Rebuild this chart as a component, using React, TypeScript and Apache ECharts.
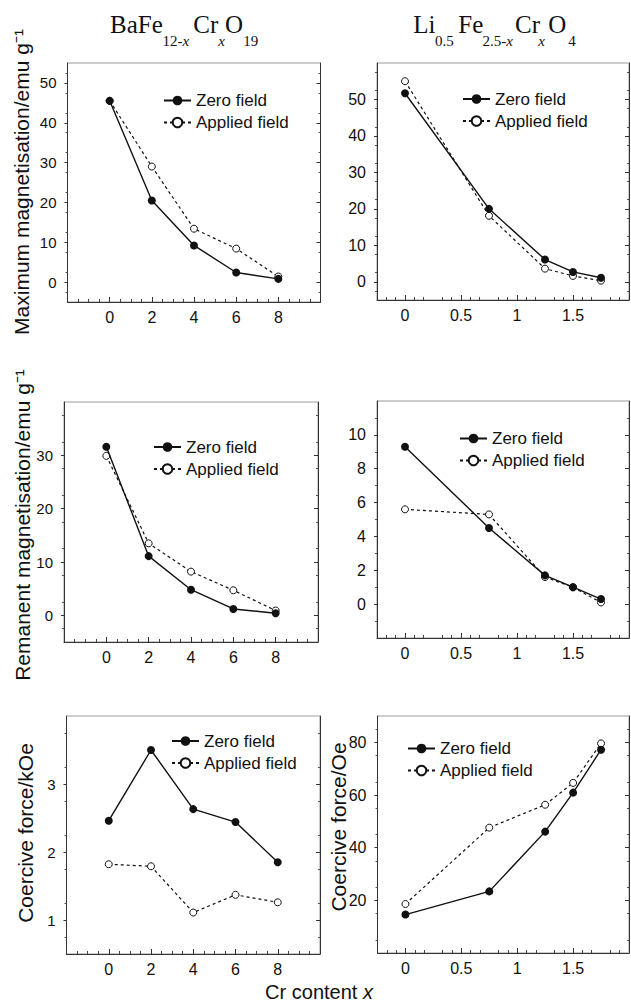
import React, { useEffect, useRef } from 'react';
import * as echarts from 'echarts';

// ---------- data ----------
const SERIES_NAMES = ['Zero field', 'Applied field'];

const BA_X = [0, 2, 4, 6, 8];
const LI_X = [0, 0.75, 1.25, 1.5, 1.75];

const BA_MAXMAG_ZERO = [45.5, 20.5, 9.2, 2.4, 0.8];
const BA_MAXMAG_APPLIED = [45.5, 29.0, 13.4, 8.4, 1.4];
const LI_MAXMAG_ZERO = [51.7, 20.0, 6.1, 2.7, 1.1];
const LI_MAXMAG_APPLIED = [55.0, 18.1, 3.6, 1.6, 0.3];

const BA_REMMAG_ZERO = [31.6, 11.1, 4.8, 1.2, 0.4];
const BA_REMMAG_APPLIED = [29.9, 13.5, 8.2, 4.7, 0.9];
const LI_REMMAG_ZERO = [9.3, 4.5, 1.7, 1.0, 0.3];
const LI_REMMAG_APPLIED = [5.6, 5.3, 1.6, 1.0, 0.1];

const BA_COERC_ZERO = [2.46, 3.5, 2.63, 2.44, 1.85];
const BA_COERC_APPLIED = [1.82, 1.79, 1.11, 1.37, 1.26];
const LI_COERC_ZERO = [14.6, 23.4, 46.1, 60.9, 77.2];
const LI_COERC_APPLIED = [18.6, 47.6, 56.3, 64.6, 79.6];

// tick labels
const BA_X_TICKS = [0, 2, 4, 6, 8];
const LI_X_TICKS = [0, 0.5, 1, 1.5];
const BA_MAXMAG_TICKS = [0, 10, 20, 30, 40, 50];
const LI_MAXMAG_TICKS = [0, 10, 20, 30, 40, 50];
const BA_REMMAG_TICKS = [0, 10, 20, 30];
const LI_REMMAG_TICKS = [0, 2, 4, 6, 8, 10];
const BA_COERC_TICKS = [1, 2, 3];
const LI_COERC_TICKS = [20, 40, 60, 80];

// ---------- style / layout ----------
const SANS = '"Liberation Sans", Arial, Helvetica, sans-serif';
const SERIF = '"Liberation Serif", "Times New Roman", serif';
const INK = '#111';

type Range = { min: number; max: number; interval: number; minorSplit: number };

const BA_X_RANGE: Range = { min: -2, max: 10, interval: 2, minorSplit: 4 };
const LI_X_RANGE: Range = { min: -0.25, max: 2, interval: 0.25, minorSplit: 3 };

const PANELS = [
  {
    grid: { left: 67.5, top: 63, width: 253, height: 239 },
    xs: BA_X, xr: BA_X_RANGE, xt: BA_X_TICKS,
    yr: { min: -5, max: 55, interval: 5, minorSplit: 2 }, yt: BA_MAXMAG_TICKS,
    zero: BA_MAXMAG_ZERO, applied: BA_MAXMAG_APPLIED,
    legend: { left: 163, top: 92 }, yFont: 15,
  },
  {
    grid: { left: 377, top: 63, width: 252, height: 237 },
    xs: LI_X, xr: LI_X_RANGE, xt: LI_X_TICKS,
    yr: { min: -5, max: 60, interval: 5, minorSplit: 2 }, yt: LI_MAXMAG_TICKS,
    zero: LI_MAXMAG_ZERO, applied: LI_MAXMAG_APPLIED,
    legend: { left: 462, top: 90.5 }, yFont: 16,
  },
  {
    grid: { left: 64, top: 402, width: 254, height: 240 },
    xs: BA_X, xr: BA_X_RANGE, xt: BA_X_TICKS,
    yr: { min: -5, max: 40, interval: 5, minorSplit: 2 }, yt: BA_REMMAG_TICKS,
    zero: BA_REMMAG_ZERO, applied: BA_REMMAG_APPLIED,
    legend: { left: 153, top: 438.5 }, yFont: 15,
  },
  {
    grid: { left: 377, top: 401, width: 252, height: 237 },
    xs: LI_X, xr: LI_X_RANGE, xt: LI_X_TICKS,
    yr: { min: -2, max: 12, interval: 2, minorSplit: 2 }, yt: LI_REMMAG_TICKS,
    zero: LI_REMMAG_ZERO, applied: LI_REMMAG_APPLIED,
    legend: { left: 459, top: 430 }, yFont: 16,
  },
  {
    grid: { left: 66.5, top: 716, width: 253.5, height: 238 },
    xs: BA_X, xr: BA_X_RANGE, xt: BA_X_TICKS,
    yr: { min: 0.5, max: 4, interval: 0.5, minorSplit: 2 }, yt: BA_COERC_TICKS,
    zero: BA_COERC_ZERO, applied: BA_COERC_APPLIED,
    legend: { left: 171, top: 732.5 }, yFont: 15,
  },
  {
    grid: { left: 377.5, top: 716, width: 251.5, height: 237 },
    xs: LI_X, xr: LI_X_RANGE, xt: LI_X_TICKS,
    yr: { min: 0, max: 90, interval: 10, minorSplit: 2 }, yt: LI_COERC_TICKS,
    zero: LI_COERC_ZERO, applied: LI_COERC_APPLIED,
    legend: { left: 407, top: 740 }, yFont: 16,
  },
];

const near = (list: number[], v: number) => list.some((t) => Math.abs(t - v) < 1e-6);

function buildOption() {
  const grid: any[] = [];
  const xAxis: any[] = [];
  const yAxis: any[] = [];
  const series: any[] = [];
  const legend: any[] = [];

  PANELS.forEach((p, i) => {
    grid.push({
      ...p.grid,
      containLabel: false,
      show: true,
      borderColor: '#9a9a9a',
      borderWidth: 1,
      backgroundColor: 'transparent',
    });
    xAxis.push({
      type: 'value',
      gridIndex: i,
      min: p.xr.min,
      max: p.xr.max,
      interval: p.xr.interval,
      axisLine: { show: true, onZero: false, lineStyle: { color: '#333', width: 1 } },
      axisTick: { show: true, inside: true, length: 5, customValues: p.xt, lineStyle: { color: '#333' } },
      minorTick: { show: true, splitNumber: p.xr.minorSplit, length: 3, lineStyle: { color: '#444' } },
      splitLine: { show: false },
      axisLabel: {
        customValues: p.xt,
        formatter: (v: number) => (near(p.xt, v) ? String(v) : ''),
        fontSize: 16,
        fontFamily: SANS,
        color: INK,
        margin: 7,
      },
    });
    const yCommon = {
      type: 'value',
      gridIndex: i,
      min: p.yr.min,
      max: p.yr.max,
      interval: p.yr.interval,
      splitLine: { show: false },
    };
    yAxis.push({
      ...yCommon,
      position: 'left',
      axisLine: { show: true, onZero: false, lineStyle: { color: '#333', width: 1 } },
      axisTick: { show: true, inside: false, length: 3, customValues: p.yt, lineStyle: { color: '#333' } },
      minorTick: { show: true, splitNumber: p.yr.minorSplit, length: 2, lineStyle: { color: '#555' } },
      axisLabel: {
        customValues: p.yt,
        formatter: (v: number) => (near(p.yt, v) ? String(v) : ''),
        fontSize: p.yFont,
        fontFamily: SANS,
        color: INK,
        margin: 11,
      },
    });
    yAxis.push({
      ...yCommon,
      position: 'right',
      axisLine: { show: true, onZero: false, lineStyle: { color: '#333', width: 1 } },
      axisTick: { show: true, inside: true, length: 4, customValues: p.yt, lineStyle: { color: '#333' } },
      minorTick: { show: true, splitNumber: p.yr.minorSplit, length: 2, lineStyle: { color: '#555' } },
      axisLabel: { show: false },
    });

    series.push({
      name: SERIES_NAMES[1],
      type: 'line',
      xAxisIndex: i,
      yAxisIndex: 2 * i,
      data: p.xs.map((x, k) => [x, p.applied[k]]),
      symbol: 'circle',
      symbolSize: 7,
      showAllSymbol: true,
      itemStyle: { color: '#fff', borderColor: INK, borderWidth: 1 },
      lineStyle: { color: INK, width: 1.2, type: [3, 3] },
      z: 2,
    });
    series.push({
      name: SERIES_NAMES[0],
      type: 'line',
      xAxisIndex: i,
      yAxisIndex: 2 * i,
      data: p.xs.map((x, k) => [x, p.zero[k]]),
      symbol: 'circle',
      symbolSize: 8,
      showAllSymbol: true,
      itemStyle: { color: INK, borderColor: INK, borderWidth: 0 },
      lineStyle: { color: INK, width: 1.4, type: 'solid' },
      z: 3,
    });

    legend.push({
      data: SERIES_NAMES,
      orient: 'vertical',
      left: p.legend.left,
      top: p.legend.top,
      padding: 0,
      itemWidth: 27,
      itemHeight: 12,
      itemGap: 5,
      selectedMode: false,
      textStyle: { fontSize: 17, fontFamily: SANS, color: INK, lineHeight: 17 },
    });
  });

  const serifMain = (text: string, x: number) => ({
    type: 'text',
    x,
    y: 24,
    style: {
      text,
      fontSize: 25,
      fontFamily: SERIF,
      fill: INK,
      align: 'left',
      verticalAlign: 'middle',
      textAlign: 'left',
      textVerticalAlign: 'middle',
    },
  });
  const serifSub = (text: string, x: number) => ({
    type: 'text',
    x,
    y: 41,
    style: {
      text,
      fontSize: 15,
      fontFamily: SERIF,
      fill: INK,
      align: 'left',
      verticalAlign: 'middle',
      textAlign: 'left',
      textVerticalAlign: 'middle',
      rich: {
        n: { fontSize: 15, fontFamily: SERIF, fill: INK, color: INK },
        i: { fontSize: 15, fontFamily: SERIF, fontStyle: 'italic', fill: INK, color: INK },
      },
    },
  });
  const yName = (text: string, x: number, y: number) => ({
    type: 'text',
    x,
    y,
    rotation: Math.PI / 2,
    style: {
      text,
      fontSize: 21,
      fontFamily: SANS,
      fill: INK,
      align: 'center',
      verticalAlign: 'middle',
      textAlign: 'center',
      textVerticalAlign: 'middle',
    },
  });

  const graphic: any[] = [
    serifMain('BaFe', 110),
    serifSub('{n|12-}{i|x}', 162.5),
    serifMain('Cr', 193.3),
    serifSub('{i|x}', 218.3),
    serifMain('O', 225),
    serifSub('{n|19}', 243.3),

    serifMain('Li', 413.3),
    serifSub('{n|0.5}', 435),
    serifMain('Fe', 458.3),
    serifSub('{n|2.5-}{i|x}', 482.5),
    serifMain('Cr', 515),
    serifSub('{i|x}', 538.3),
    serifMain('O', 548.3),
    serifSub('{n|4}', 568.3),

    yName('Maximum magnetisation/emu g\u207B\u00B9', 21, 182),
    yName('Remanent magnetisation/emu g\u207B\u00B9', 22, 525),
    yName('Coercive force/kOe', 25, 833),
    yName('Coercive force/Oe', 338, 827),

    {
      type: 'text',
      x: 319,
      y: 992,
      style: {
        text: '{n|Cr content }{i|x}',
        fontSize: 20,
        fontFamily: SANS,
        fill: INK,
        align: 'center',
        verticalAlign: 'middle',
        textAlign: 'center',
        textVerticalAlign: 'middle',
        rich: {
          n: { fontSize: 20, fontFamily: SANS, fill: INK, color: INK, lineHeight: 20 },
          i: { fontSize: 20, fontFamily: SANS, fontStyle: 'italic', fill: INK, color: INK, lineHeight: 20 },
        },
      },
    },
  ];

  return {
    animation: false,
    backgroundColor: '#fff',
    textStyle: { fontFamily: SANS, color: INK },
    grid,
    xAxis,
    yAxis,
    series,
    legend,
    graphic,
  };
}

export default function App() {
  const ref = useRef<HTMLDivElement | null>(null);
  useEffect(() => {
    if (!ref.current) return;
    const chart = echarts.init(ref.current, undefined, { renderer: 'svg' });
    chart.setOption(buildOption() as any);
    return () => {
      chart.dispose();
    };
  }, []);
  return (
    <div
      ref={ref}
      style={{ position: 'absolute', left: 0, top: 0, width: 631, height: 1005, background: '#fff' }}
    />
  );
}
